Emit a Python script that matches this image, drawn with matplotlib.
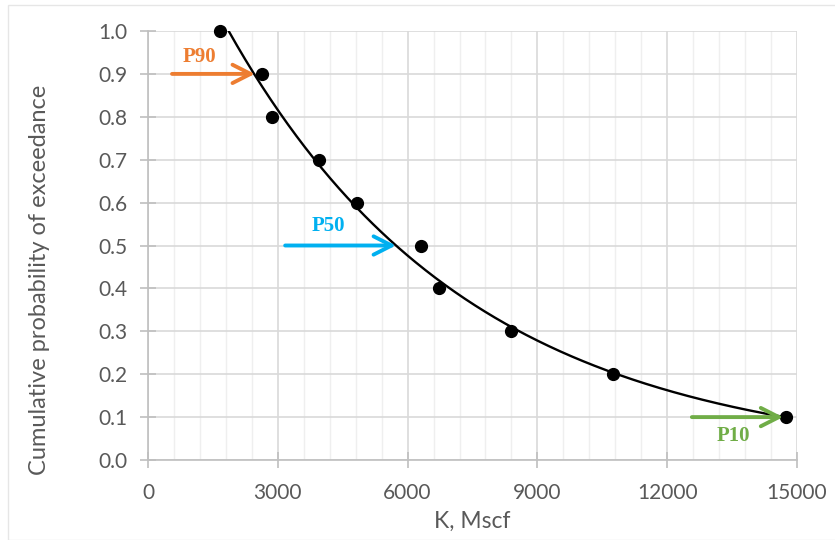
import numpy as np
import matplotlib
matplotlib.use("Agg")
import matplotlib.pyplot as plt
from matplotlib.ticker import MultipleLocator
from matplotlib.patches import Rectangle

# Data
k_values = [1660, 2640, 2870, 3950, 4820, 6310, 6720, 8380, 10750, 14740]
prob_values = [1.0, 0.9, 0.8, 0.7, 0.6, 0.5, 0.4, 0.3, 0.2, 0.1]
x_ticks = [0, 3000, 6000, 9000, 12000, 15000]
y_ticks = [0.0, 0.1, 0.2, 0.3, 0.4, 0.5, 0.6, 0.7, 0.8, 0.9, 1.0]

# Annotated arrows
arrow_labels = ["P90", "P50", "P10"]
arrow_y = [0.9, 0.5, 0.1]
arrow_x0 = [555, 3170, 12570]
arrow_x1 = [2470, 5730, 14680]
label_x = [1200, 4160, 13520]
label_y = [0.94, 0.545, 0.055]
arrow_colors = ["#ED7D31", "#00B0F0", "#70AD47"]

tick_font = ["Lato", "DejaVu Sans"]
gray = "#595959"

fig = plt.figure(figsize=(8.35, 5.4), dpi=100)
fig.patches.append(Rectangle((8/835, 0), 1, 1 - 5/540, transform=fig.transFigure,
                             fill=False, edgecolor="#E6E6E6", lw=1.0))
ax = fig.add_axes([148/835, 80/540, 649/835, 429/540])

# Exponential trendline (least squares on ln y), like Excel
xk = np.array(k_values, dtype=float)
yp = np.array(prob_values, dtype=float)
b, lna = np.polyfit(xk, np.log(yp), 1)
xs = np.linspace(xk.min(), xk.max(), 400)
ys = np.exp(lna) * np.exp(b * xs)
ax.plot(xs, ys, color="black", lw=1.7, zorder=3, clip_on=True)

ax.plot(k_values, prob_values, "o", color="black", markersize=8.5, zorder=4, clip_on=False)

for lab, yv, x0, x1, lx, ly, c in zip(arrow_labels, arrow_y, arrow_x0, arrow_x1, label_x, label_y, arrow_colors):
    ax.annotate("", xy=(x1, yv), xytext=(x0, yv),
                arrowprops=dict(arrowstyle="->,head_length=0.65,head_width=0.33",
                                mutation_scale=20, color=c, lw=2.8,
                                shrinkA=0, shrinkB=0, capstyle="round"),
                zorder=5)
    ax.text(lx, ly, lab, color=c, fontsize=15, fontweight="bold",
            family=["Liberation Serif", "DejaVu Serif"], ha="center", va="center", zorder=5)

ax.set_xlim(0, 15000)
ax.set_ylim(0, 1.0)
ax.set_xticks(x_ticks)
ax.set_yticks(y_ticks)
ax.set_yticklabels([f"{v:.1f}" for v in y_ticks])
ax.xaxis.set_minor_locator(MultipleLocator(600))

ax.grid(which="major", color="#D9D9D9", lw=1.2)
ax.grid(which="minor", axis="x", color="#EFEFEF", lw=1.0)
ax.set_axisbelow(True)

for s in ["top", "right"]:
    ax.spines[s].set_visible(False)
for s in ["left", "bottom"]:
    ax.spines[s].set_color("#BFBFBF")
    ax.spines[s].set_linewidth(1.2)

ax.tick_params(which="major", direction="inout", length=11, color="#BFBFBF", width=1.2,
               labelcolor=gray, labelsize=15, pad=9)
ax.tick_params(axis="x", which="major", pad=11)
ax.tick_params(which="minor", length=0)
for lbl in ax.get_xticklabels() + ax.get_yticklabels():
    lbl.set_family(tick_font)

ax.set_xlabel("K, Mscf", color=gray, fontsize=16.5, family=tick_font)
ax.set_ylabel("Cumulative probability of exceedance", color=gray, fontsize=17,
              family=tick_font)
ax.xaxis.set_label_coords(0.5, -0.118)
ax.yaxis.set_label_coords(-0.151, 0.42)

fig.savefig("out.png", dpi=100)
